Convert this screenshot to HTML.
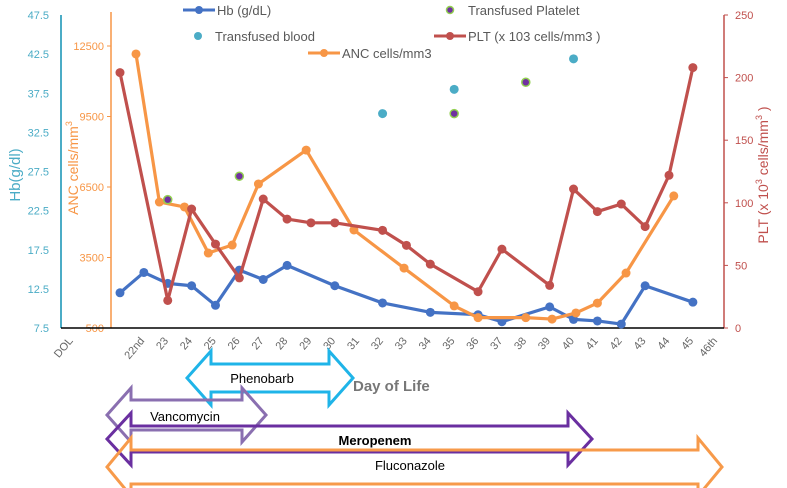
<!DOCTYPE html>
<html><head><meta charset="utf-8"><style>
body{margin:0;background:#fff;}
svg{display:block;font-family:"Liberation Sans",sans-serif;}
</style></head><body>
<svg id="c" width="787" height="488" viewBox="0 0 787 488"></svg>
<script>
const xLabels=["DOL","","","22nd","23","24","25","26","27","28","29","30","31","32","33","34","35","36","37","38","39","40","41","42","43","44","45","46th"];
const hbX=[0,1,2,3,4,5,6,7,9,11,13,15,16,18,19,20,21,22,24];
const hbV=[12.0,14.6,13.2,12.9,10.4,14.9,13.7,15.5,12.9,10.7,9.5,9.2,8.3,10.2,8.6,8.4,8.0,12.9,10.8];
const ancX=[0.67,1.65,2.7,3.7,4.7,5.8,7.8,9.8,11.9,14,15,17,18.1,19.1,20,21.2,23.2];
const ancV=[12160,5860,5650,3690,4030,6630,8070,4670,3050,1440,940,940,880,1140,1560,2840,6120];
const pltX=[0,2,3,4,5,6,7,8,9,11,12,13,15,16,18,19,20,21,22,23,24];
const pltV=[204,22,95,67,40,103,87,84,84,78,66,51,29,63,34,111,93,99,81,122,208];
const bloodX=[11,14,19];
const bloodV=[34.9,38.0,41.9];
const platX=[2,5,14,17];
const platV=[23.9,26.9,34.9,38.9];
const hbTicks=[7.5,12.5,17.5,22.5,27.5,32.5,37.5,42.5,47.5];
const ancTicks=[500,3500,6500,9500,12500];
const pltTicks=[0,50,100,150,200,250];

const NS="http://www.w3.org/2000/svg";
const svg=document.getElementById('c');
function el(t,a,p){const e=document.createElementNS(NS,t);for(const k in a)e.setAttribute(k,a[k]);(p||svg).appendChild(e);return e;}
const X=i=>120+23.87*i;
const B=328;
const yHb=v=>B-(v-7.5)*313/40;
const yAnc=v=>B-(v-500)*70.5/3000;
const yPlt=v=>B-v*313/250;

// axes
let a=el('line',{x1:61,y1:15,x2:61,y2:B,stroke:'#4bacc6','stroke-width':2});

hbTicks.forEach(v=>{let t=el('text',{x:49,y:yHb(v)+4,'text-anchor':'end','font-size':11,fill:'#4bacc6'});t.textContent=v.toFixed(1);
});
a=el('line',{x1:111,y1:12,x2:111,y2:B,stroke:'#f79646','stroke-width':1.5});

ancTicks.forEach(v=>{el('line',{x1:107,x2:111,y1:yAnc(v),y2:yAnc(v),stroke:'#f79646'});let t=el('text',{x:104,y:yAnc(v)+4,'text-anchor':'end','font-size':11,fill:'#f79646'});t.textContent=v;
});
a=el('line',{x1:724,y1:15,x2:724,y2:B,stroke:'#c0504d','stroke-width':1.5});

pltTicks.forEach(v=>{el('line',{x1:724,x2:728,y1:yPlt(v),y2:yPlt(v),stroke:'#c0504d'});let t=el('text',{x:735,y:yPlt(v)+4,'font-size':11,fill:'#c0504d'});t.textContent=v;
});
a=el('line',{x1:61,y1:B,x2:724,y2:B,stroke:'#000','stroke-width':1.5});

xLabels.forEach((l,k)=>{if(!l)return;const x=145+23.87*(k-3);let t=el('text',{x:x,y:341,'text-anchor':'end','font-size':11,fill:'#666',transform:`rotate(-50 ${x} 341)`});t.textContent=l;
});

// axis titles
let t=el('text',{x:0,y:0,'font-size':15,fill:'#4bacc6','text-anchor':'middle',transform:'translate(20 175) rotate(-90)'});t.textContent='Hb(g/dl)';

t=el('text',{x:0,y:0,'font-size':14,fill:'#f79646','text-anchor':'middle',transform:'translate(78 168) rotate(-90)'});t.innerHTML='ANC cells/mm<tspan font-size="9" dy="-6">3</tspan>';

t=el('text',{x:0,y:0,'font-size':14,fill:'#c0504d','text-anchor':'middle',transform:'translate(768 175) rotate(-90)'});t.innerHTML='PLT (x 10<tspan font-size="9" dy="-6">3</tspan><tspan dy="6"> cells/mm</tspan><tspan font-size="9" dy="-6">3</tspan><tspan dy="6"> )</tspan>';


function series(xs,vs,ys,color,name){
  const pts=xs.map((x,i)=>[X(x),ys(vs[i])]);
  let p=el('polyline',{points:pts.map(q=>q.join(',')).join(' '),fill:'none',stroke:color,'stroke-width':3.2,'stroke-linejoin':'round'});
  
  pts.forEach(q=>{let c=el('circle',{cx:q[0],cy:q[1],r:4.5,fill:color});
  });
}
series(hbX,hbV,yHb,'#4472c4','hb');
series(ancX,ancV,yAnc,'#f79646','anc');
series(pltX,pltV,yPlt,'#c0504d','plt');
bloodX.forEach((x,i)=>{let c=el('circle',{cx:X(x),cy:yHb(bloodV[i]),r:4.5,fill:'#4bacc6'});
});
platX.forEach((x,i)=>{let c=el('circle',{cx:X(x),cy:yHb(platV[i]),r:4,fill:'#7030a0',stroke:'#92d050','stroke-width':1.5});
});

// legend
function legLine(x,y,c,label,name){let g=el('g',{});
el('line',{x1:x,x2:x+32,y1:y,y2:y,stroke:c,'stroke-width':3},g);el('circle',{cx:x+16,cy:y,r:4,fill:c},g);
let tt=el('text',{x:x+34,y:y+5,'font-size':13,fill:'#595959'},g);tt.textContent=label;}
legLine(183,10,'#4472c4','Hb (g/dL)','legend-hb');
legLine(434,36,'#c0504d','PLT (x 103 cells/mm3  )','legend-plt');
legLine(308,53,'#f79646','ANC cells/mm3','legend-anc');
let g=el('g',{});
el('circle',{cx:198,cy:36,r:4,fill:'#4bacc6'},g);t=el('text',{x:215,y:41,'font-size':13,fill:'#595959'},g);t.textContent='Transfused blood';
g=el('g',{});
el('circle',{cx:450,cy:10,r:3.5,fill:'#7030a0',stroke:'#92d050','stroke-width':1.5},g);t=el('text',{x:468,y:15,'font-size':13,fill:'#595959'},g);t.textContent='Transfused Platelet';

t=el('text',{x:353,y:391,'font-size':15,'font-weight':'bold',fill:'#777'});t.textContent='Day of Life';


// arrows
function arrow(x1,x2,cy,hh,sh,hl,color,label,lx,ly,bold,name){
  const d=`M${x1},${cy} L${x1+hl},${cy-hh} L${x1+hl},${cy-sh} L${x2-hl},${cy-sh} L${x2-hl},${cy-hh} L${x2},${cy} L${x2-hl},${cy+hh} L${x2-hl},${cy+sh} L${x1+hl},${cy+sh} L${x1+hl},${cy+hh} Z`;
  let p=el('path',{d:d,fill:'none',stroke:color,'stroke-width':3});
  
  let tx=el('text',{x:lx,y:ly,'font-size':13,fill:'#000','text-anchor':'middle','font-weight':bold?'bold':'normal'});tx.textContent=label;
  
}
arrow(187,353,378,27,14,24,'#1fb4e8','Phenobarb',262,383,false,'phenobarb-arrow');
arrow(107,266,415,27,15,24,'#8a6fb0','Vancomycin',185,421,false,'vancomycin-arrow');
arrow(107,592,439,26,13,24,'#6a2fa0','Meropenem',375,445,true,'meropenem-arrow');
arrow(107,722,467,29,17,24,'#f79a4a','Fluconazole',410,470,false,'fluconazole-arrow');
</script>
</body></html>
